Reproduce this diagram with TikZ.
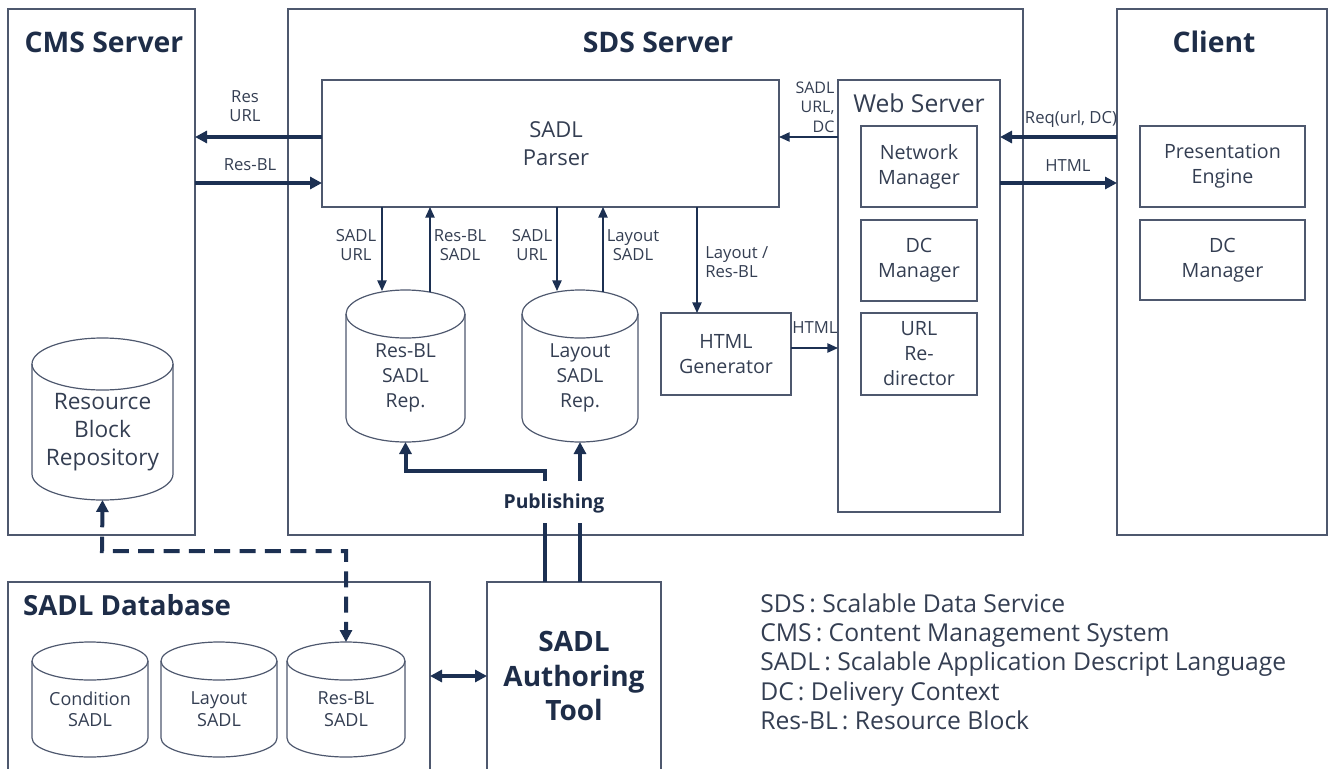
\documentclass[tikz,border=0pt]{standalone}
\usepackage{fontspec}
\setmainfont{Open Sans}
\usetikzlibrary{arrows.meta,calc}

\definecolor{boxc}{RGB}{78,88,110}
\definecolor{arrc}{RGB}{28,48,82}
\definecolor{txtc}{RGB}{52,62,82}
\definecolor{ttlc}{RGB}{30,45,72}

% rectangle from (x1,y1) to (x2,y2), in pixel units
\newcommand\rbox[7]{%
  \node[box,#6,anchor=north west,minimum width={(#4-#2)*0.75pt},
        minimum height={(#5-#3)*0.75pt}] (#1) at (#2,#3) {#7};}
% database cylinder: name, left, top, right, bottom, cap radius, label, label options
\newcommand\dbcyl[8]{%
  \node[cyl,minimum width={(#4-#2)*0.75pt},minimum height={(#5-#3)*0.75pt}]
     (#1) at ({(#2+#4)/2},{(#3+#5)/2}) {};
  \draw[cylline] (#2,{#3+#6}) -- (#2,{#5-#6})
     arc[start angle=180,end angle=0,x radius={(#4-#2)/2},y radius=#6]
     -- (#4,{#3+#6});
  \draw[cylline] ({(#2+#4)/2},{#3+#6}) ellipse[x radius={(#4-#2)/2},y radius=#6];
  \node[cyltext,#8] (#1-t) at ({(#2+#4)/2},{(#3+#5)/2+#6/2}) {#7};}

\begin{document}
\begin{tikzpicture}[x=0.75pt,y=-0.75pt,
  box/.style={draw=boxc,line width=0.9pt,rectangle,inner sep=0pt,outer sep=0pt,
              text=txtc,align=center},
  cyl/.style={rectangle,inner sep=0pt,outer sep=0pt},
  cylline/.style={draw=boxc,line width=0.9pt},
  cyltext/.style={text=txtc,align=center,inner sep=0pt,
                  font=\fontsize{14.5}{18.75}\selectfont},
  inbox/.style={font=\fontsize{14.75}{18.75}\selectfont},
  ttl/.style={text=ttlc,font=\fontsize{21.25}{24}\selectfont\bfseries,inner sep=0pt},
  lbl/.style={text=txtc,align=center,inner sep=0pt,
              font=\fontsize{12.5}{14.25}\selectfont},
  bigarr/.style={draw=arrc,line width=3pt,-{Triangle[length=9pt,width=9pt]}},
  bigline/.style={draw=arrc,line width=3pt},
  thinarr/.style={draw=arrc,line width=1.1pt,-{Triangle[length=8pt,width=7pt]}},
]
\useasboundingbox (0,0) rectangle (1335,768);
\clip (0,0) rectangle (1335,768);

% ---- server frames ----
\rbox{cms}{8}{9}{195}{535}{}{}
\rbox{sds}{288}{9}{1023}{535}{}{}
\rbox{client}{1117}{9}{1327}{535}{}{}
\node[ttl] (cmsT) at (104,42) {CMS Server};
\node[ttl] (sdsT) at (658,42) {SDS Server};
\node[ttl] (clientT) at (1214,42) {Client};

% ---- SDS internals ----
\rbox{parser}{322}{80}{779}{207}{}{}
\node[text=txtc,align=center,inner sep=0pt,font=\fontsize{16.5}{21}\selectfont]
  (parserT) at (556,144) {SADL\\Parser};
\rbox{web}{838}{80}{1000}{512}{}{}
\node[text=txtc,inner sep=0pt,font=\fontsize{18.5}{21}\selectfont] (webT) at (919,103) {Web Server};
\rbox{netm}{861}{126}{977}{207}{inbox}{Network\\Manager}
\rbox{dcm}{861}{220}{977}{301}{inbox}{DC\\Manager}
\rbox{urlr}{861}{313}{977}{395}{inbox}{URL\\Re-\\director}
\rbox{htmlg}{661}{313}{791}{395}{inbox}{HTML\\Generator}
\dbcyl{rbsr}{346}{290}{465}{442}{24}{Res-BL\\SADL\\Rep.}{}
\dbcyl{lsr}{522}{290}{638}{442}{24}{Layout\\SADL\\Rep.}{}

% ---- client internals ----
\rbox{pres}{1140}{126}{1305}{207}{inbox}{Presentation\\Engine}
\rbox{cdcm}{1140}{220}{1305}{300}{inbox}{DC\\Manager}

% ---- CMS internals ----
\dbcyl{rbr}{32}{338}{173}{500}{26}{Resource\\Block\\Repository}{font=\fontsize{17}{21}\selectfont}

% ---- SADL database and authoring tool ----
\rbox{db}{8}{582}{430}{800}{}{}
\node[ttl,font=\fontsize{20.75}{24}\selectfont\bfseries] (dbT) at (127,605) {SADL Database};
\dbcyl{cond}{32}{642}{148}{757}{19}{Condition\\SADL}{font=\fontsize{13.5}{16}\selectfont}
\dbcyl{lay}{161}{642}{277}{757}{19}{Layout\\SADL}{font=\fontsize{13.5}{16}\selectfont}
\dbcyl{resdb}{287}{642}{405}{757}{19}{Res-BL\\SADL}{font=\fontsize{13.5}{16}\selectfont}
\rbox{tool}{487}{582}{661}{800}{}{}
\node[text=ttlc,align=center,inner sep=0pt,font=\fontsize{21}{26}\selectfont\bfseries]
  (toolT) at (574,676) {SADL\\Authoring\\Tool};

% ---- CMS <-> parser ----
\draw[bigarr] (parser.west |- 0,137) -- (cms.east |- 0,137);
\node[lbl] (lResUrl) at (245,106) {Res\\URL};
\draw[bigarr] (cms.east |- 0,183) -- (parser.west |- 0,183);
\node[lbl] (lResBL) at (250,165) {Res-BL};

% ---- web server <-> parser / client ----
\draw[thinarr] (web.west |- 0,137) -- (parser.east |- 0,137);
\node[lbl,font=\fontsize{12}{14.5}\selectfont,align=right] (lSadlDc) at (815,107) {SADL\\URL,\\DC};
\draw[bigarr] (client.west |- 0,137) -- (web.east |- 0,137);
\node[lbl] (lReq) at (1071,119) {Req(url, DC)};
\draw[bigarr] (web.east |- 0,183) -- (client.west |- 0,183);
\node[lbl] (lHtml1) at (1068,166) {HTML};

% ---- parser <-> repositories ----
\draw[thinarr] (parser.south -| 382,0) -- (382,291);
\node[lbl] (l1) at (356,245) {SADL\\URL};
\draw[thinarr] (430,292) -- (parser.south -| 430,0);
\node[lbl] (l2) at (460,245) {Res-BL\\SADL};
\draw[thinarr] (parser.south -| 557,0) -- (557,291);
\node[lbl] (l3) at (532,245) {SADL\\URL};
\draw[thinarr] (603,292) -- (parser.south -| 603,0);
\node[lbl] (l4) at (633,245) {Layout\\SADL};
\draw[thinarr] (parser.south -| 697,0) -- (htmlg.north -| 697,0);
\node[lbl,anchor=west,align=left] (l5) at (705,262) {Layout /\\Res-BL};
\draw[thinarr] (htmlg.east |- 0,348) -- (web.west |- 0,348);
\node[lbl] (l6) at (815,328) {HTML};

% ---- publishing ----
\coordinate (pa1) at (545,523);
\coordinate (pa2) at (545,481);
\coordinate (pb1) at (580,523);
\coordinate (pb2) at (580,481);
\draw[bigline] (tool.north -| pa1) -- (pa1);
\draw[bigline] (tool.north -| pb1) -- (pb1);
\node[text=ttlc,inner sep=0pt,font=\fontsize{14.5}{16}\selectfont\bfseries] (pub) at (554,503) {Publishing};
\draw[bigarr] (pa2) -- (545,471) -| (rbsr.south);
\draw[bigarr] (pb2) -- (lsr.south -| pb2);

% ---- resource block sync (dashed) ----
\draw[draw=arrc,line width=3pt,dash pattern=on 12pt off 7pt,
      {Triangle[length=9pt,width=9pt]}-{Triangle[length=9pt,width=9pt]}]
  (rbr.south) -- (102,551) -| (resdb.north);

% ---- database <-> authoring tool ----
\draw[draw=arrc,line width=3pt,{Triangle[length=9pt,width=9pt]}-{Triangle[length=9pt,width=9pt]}]
  (db.east |- 0,676) -- (tool.west |- 0,676);

% ---- abbreviations ----
\node[text=txtc,anchor=north west,align=left,inner sep=0pt,
      font=\fontsize{18.5}{22}\selectfont] (legend) at (760,593)
  {SDS\,: Scalable Data Service\\
   CMS\,: Content Management System\\
   SADL\,: Scalable Application Descript Language\\
   DC\,: Delivery Context\\
   Res-BL\,: Resource Block};
\end{tikzpicture}
\end{document}
